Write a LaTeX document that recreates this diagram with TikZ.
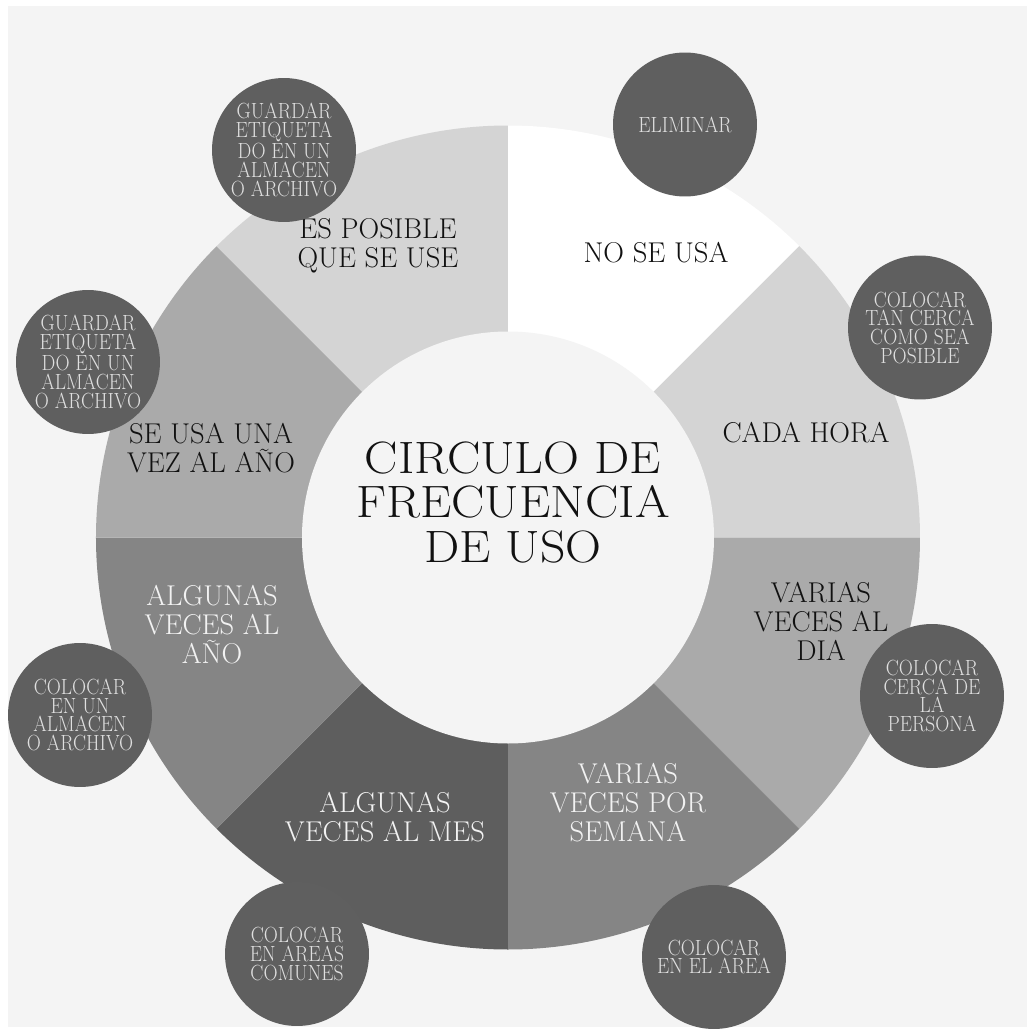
\documentclass[tikz,border=0pt]{standalone}
\usepackage{fontspec}
\setmainfont{lmroman17-regular.otf}
\newfontfamily\bubblefont{lmroman17-regular.otf}[FakeStretch=0.89]
\newfontfamily\segfont{lmroman17-regular.otf}[FakeStretch=1.0]
\newfontfamily\titlefont{lmroman17-regular.otf}[FakeStretch=1.1]
\usetikzlibrary{positioning}
\definecolor{panel}{HTML}{F4F4F4}
\definecolor{wedgeW}{HTML}{FFFFFF}
\definecolor{wedgeA}{HTML}{D4D4D4}
\definecolor{wedgeB}{HTML}{AAAAAA}
\definecolor{wedgeC}{HTML}{858585}
\definecolor{wedgeD}{HTML}{5E5E5E}
\definecolor{bubblegray}{HTML}{5F5F5F}
\definecolor{inkdark}{HTML}{111111}
\definecolor{inklight}{HTML}{F2F2F2}

\begin{document}
\begin{tikzpicture}[x=0.02cm, y=0.02cm]
\tikzstyle{bubble}=[circle, minimum size=2.88cm, inner sep=0, fill=bubblegray, text=inklight!92!black, align=center, font=\bubblefont\fontsize{12.5}{10.6}\selectfont]
\tikzstyle{seg}=[align=center, inner sep=0, font=\segfont\fontsize{16.3}{16.5}\selectfont]
\tikzstyle{segdark}=[seg, text=inkdark]
\tikzstyle{seglight}=[seg, text=inklight]

\useasboundingbox (-508,-491.5) rectangle (519,537.5);
\fill[panel] (-500,-489.5) rectangle (519,531.5);

% ring of eight wedges
\foreach \a/\c in {45/wedgeW, 0/wedgeA, -45/wedgeB, -90/wedgeC, -135/wedgeD, 180/wedgeC, 135/wedgeB, 90/wedgeA}
  \fill[\c] (0,0) -- (\a:412) arc[start angle=\a, delta angle=45, radius=412] -- cycle;
\fill[panel] (0,0) circle[radius=206];

\node[align=center, inner sep=0, text=inkdark, font=\titlefont\fontsize{25.8}{25.6}\selectfont] (title) at (5,35) {CIRCULO DE\\FRECUENCIA\\DE USO};

  \node[segdark] (no_usa) at (148,285) {NO SE USA};
  \node[segdark] (cada_hora) at (298,105) {CADA HORA};
  \node[segdark] (v_dia) at (313,-83.5) {VARIAS\\VECES AL\\DIA};
  \node[seglight] (v_semana) at (120,-265) {VARIAS\\VECES POR\\SEMANA};
  \node[seglight] (a_mes) at (-123,-279.5) {ALGUNAS\\VECES AL MES};
  \node[seglight] (a_ano) at (-296,-87) {ALGUNAS\\VECES AL\\AÑO};
  \node[segdark] (vez_ano) at (-297,89) {SE USA UNA\\VEZ AL AÑO};
  \node[segdark] (posible) at (-130,292) {ES POSIBLE\\QUE SE USE};

% action bubbles
  \node[bubble] (b_eliminar) at (177,413) {ELIMINAR};
  \node[bubble] (b_tan_cerca) at (412,210) {COLOCAR\\TAN CERCA\\COMO SEA\\POSIBLE};
  \node[bubble] (b_persona) at (424,-158.5) {COLOCAR\\CERCA DE\\LA\\PERSONA};
  \node[bubble] (b_area) at (206,-419.5) {COLOCAR\\EN EL AREA};
  \node[bubble] (b_comunes) at (-211,-416.5) {COLOCAR\\EN AREAS\\COMUNES};
  \node[bubble] (b_almacen) at (-428,-177.5) {COLOCAR\\EN UN\\ALMACEN\\O ARCHIVO};
  \node[bubble] (b_guardar_1) at (-420,175.5) {GUARDAR\\ETIQUETA\\DO EN UN\\ALMACEN\\O ARCHIVO};
  \node[bubble] (b_guardar_2) at (-224,387.5) {GUARDAR\\ETIQUETA\\DO EN UN\\ALMACEN\\O ARCHIVO};
\end{tikzpicture}
\end{document}
